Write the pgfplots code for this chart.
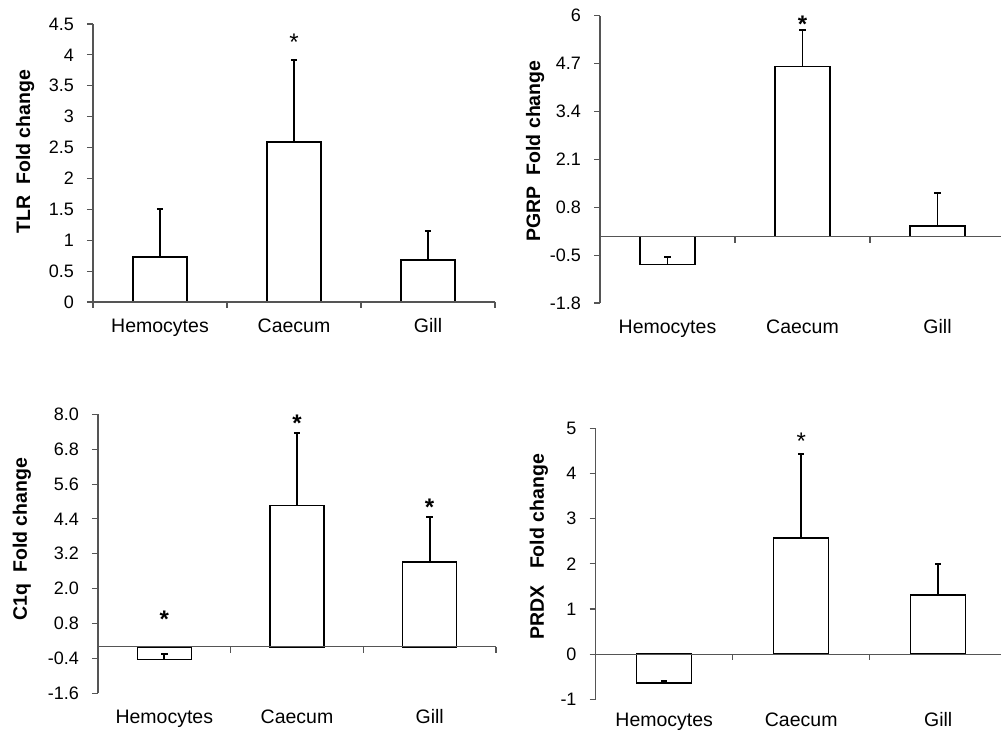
\documentclass[border=0pt]{standalone}
\usepackage{pgfplots}
\pgfplotsset{compat=1.18}
\usepackage{fontspec}
\setmainfont{Liberation Sans}
\definecolor{axgray}{HTML}{555555}
\pgfplotsset{
  panel/.style={
    scale only axis, anchor=south west,
    axis y line*=left, axis x line*=bottom,
    x axis line style={draw=none},
    y axis line style={draw=axgray, line width=1.1pt},
    axis line style={-},
    xmin=-0.5, xmax=2.5,
    xtick={0,1,2},
    xticklabels={Hemocytes,Caecum,Gill},
    xtick style={draw=none},
    ytick style={draw=axgray, line width=1.1pt},
    tick align=outside, major tick length=6pt,
    xticklabel style={font=\fontsize{19.5}{19.5}\selectfont, anchor=north, inner sep=0pt, text height=14pt, text depth=4pt, yshift=-10pt},
    yticklabel style={font=\fontsize{18}{18}\selectfont, anchor=east, inner sep=0pt, xshift=-13pt},
    ylabel style={font=\fontsize{19.5}{19.5}\selectfont\bfseries, anchor=center},
    clip=false,
  },
  bars/.style={ybar, bar shift=0pt, fill=white, draw=black, line width=1.5pt,
    error bars/y dir=plus, error bars/y explicit,
    error bars/error bar style={line width=1.9pt, black},
    error bars/error mark options={rotate=90, line width=1.9pt, mark size=3.2pt, black}},
}
\newcommand{\zeroaxis}{%
  \draw[axgray, line width=1.1pt] (axis cs:-0.5,0) -- (axis cs:2.5,0);
  \draw[axgray, line width=1.1pt] (axis cs:0.5,0) -- ([yshift=-6pt]axis cs:0.5,0);
  \draw[axgray, line width=1.1pt] (axis cs:1.5,0) -- ([yshift=-6pt]axis cs:1.5,0);
  \draw[axgray, line width=1.1pt] (axis cs:2.5,0) -- ([yshift=-6pt]axis cs:2.5,0);
}
\begin{document}
\begin{tikzpicture}[x=1pt,y=1pt]
\useasboundingbox (0,0) rectangle (1001,731);
% Panel 1: TLR
\begin{axis}[panel, at={(93pt,429pt)}, width=402pt, height=278pt,
  ymin=0, ymax=4.5, ytick={0,0.5,...,4.5},
  yticklabels={0,0.5,1,1.5,2,2.5,3,3.5,4,4.5},
  ylabel={TLR\ \ Fold change},
  ylabel style={at={(axis description cs:-0.169,0.541)}}]
\addplot[bars, bar width=54pt] table[x=x,y=y,y error=e]{
x y e
0 0.73 0.77
1 2.59 1.33
2 0.68 0.47
};
\zeroaxis
\draw[axgray, line width=1.1pt] (axis cs:-0.5,0) -- ([yshift=-6pt]axis cs:-0.5,0);
\node[font=\fontsize{24}{24}\selectfont] at (axis cs:1,4.20) {*};
\end{axis}
% Panel 2: PGRP
\begin{axis}[panel, at={(600pt,428pt)}, width=405pt, height=287.3pt,
  ymin=-1.8, ymax=6, ytick={-1.8,-0.5,0.8,2.1,3.4,4.7,6},
  yticklabels={-1.8,-0.5,0.8,2.1,3.4,4.7,6},
  ylabel={PGRP\ \ Fold change},
  ylabel style={at={(axis description cs:-0.160,0.529)}}]
\addplot[bars, bar width=55pt] table[x=x,y=y,y error=e]{
x y e
0 -0.75 0.20
1 4.62 0.99
2 0.29 0.90
};
\zeroaxis
\node[font=\fontsize{24}{24}\selectfont\bfseries] at (axis cs:1,5.76) {*};
\end{axis}
% Panel 3: C1q
\begin{axis}[panel, at={(98pt,37.7pt)}, width=398pt, height=279pt,
  ymin=-1.6, ymax=8, ytick={-1.6,-0.4,0.8,2.0,3.2,4.4,5.6,6.8,8.0},
  yticklabels={-1.6,-0.4,0.8,2.0,3.2,4.4,5.6,6.8,8.0},
  ylabel={C1q\ \ Fold change},
  ylabel style={at={(axis description cs:-0.191,0.553)}}]
\addplot[bars, bar width=54pt] table[x=x,y=y,y error=e]{
x y e
0 -0.43 0.18
1 4.86 2.51
2 2.92 1.56
};
\zeroaxis
\node[font=\fontsize{24}{24}\selectfont\bfseries] at (axis cs:0,0.95) {*};
\node[font=\fontsize{24}{24}\selectfont\bfseries] at (axis cs:1,7.70) {*};
\node[font=\fontsize{24}{24}\selectfont\bfseries] at (axis cs:2,4.81) {*};
\end{axis}
% Panel 4: PRDX
\begin{axis}[panel, at={(595.7pt,31.7pt)}, width=411pt, height=271pt,
  ymin=-1, ymax=5, ytick={-1,0,1,2,3,4,5},
  yticklabels={-1,0,1,2,3,4,5},
  xticklabel style={yshift=3pt},
  ylabel={PRDX\ \ \ Fold change},
  ylabel style={at={(axis description cs:-0.138,0.563)}}]
\addplot[bars, bar width=55pt] table[x=x,y=y,y error=e]{
x y e
0 -0.64 0.05
1 2.57 1.86
2 1.31 0.68
};
\zeroaxis
\node[font=\fontsize{24}{24}\selectfont] at (axis cs:1,4.72) {*};
\end{axis}
\end{tikzpicture}
\end{document}
